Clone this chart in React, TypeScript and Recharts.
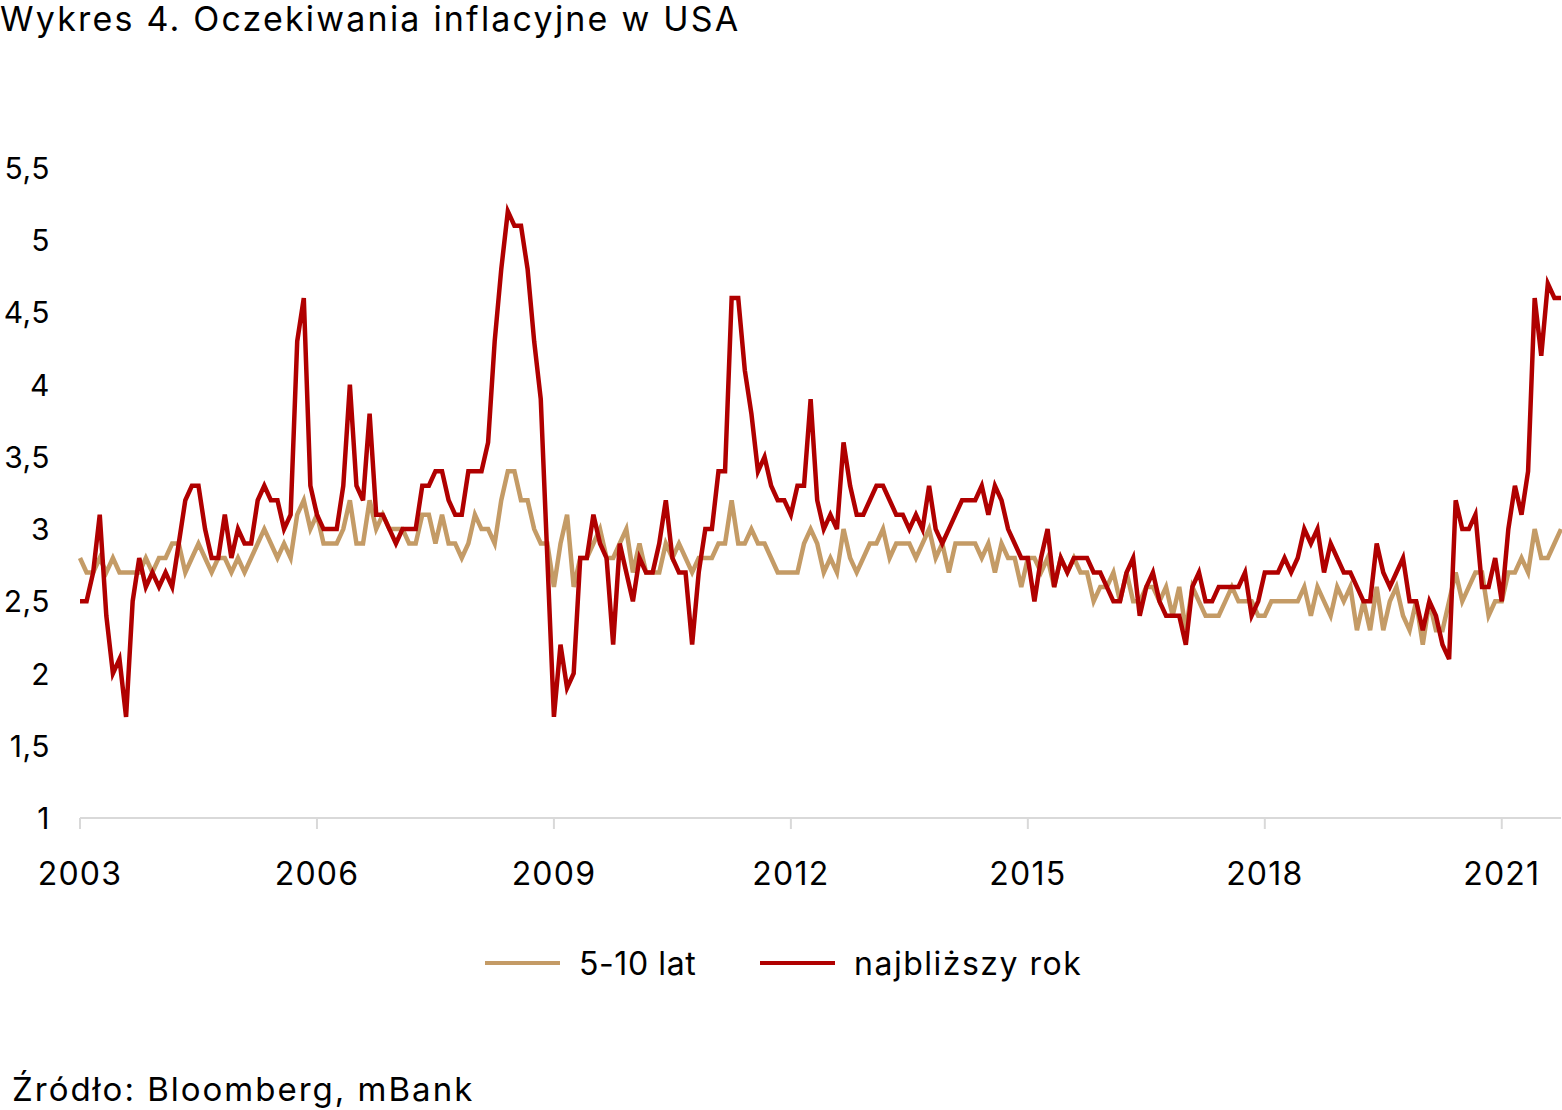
import { LineChart, Line, XAxis, YAxis } from "recharts";

const START_YEAR = 2003;
const YEAR_TICKS = [2003, 2006, 2009, 2012, 2015, 2018, 2021];
const Y_TICKS = [1, 1.5, 2, 2.5, 3, 3.5, 4, 4.5, 5, 5.5];

const TAN = "#c49b66";
const RED = "#b00000";
const FONT = "Inter, 'Noto Sans', sans-serif";

// oczekiwania 5-10 lat, miesięcznie od 01.2003
const longTerm = [
  2.8, 2.7, 2.7, 2.8, 2.7, 2.8, 2.7, 2.7, 2.7, 2.7, 2.8, 2.7,
  2.8, 2.8, 2.9, 2.9, 2.7, 2.8, 2.9, 2.8, 2.7, 2.8, 2.8, 2.7,
  2.8, 2.7, 2.8, 2.9, 3.0, 2.9, 2.8, 2.9, 2.8, 3.1, 3.2, 3.0,
  3.1, 2.9, 2.9, 2.9, 3.0, 3.2, 2.9, 2.9, 3.2, 3.0, 3.1, 3.0,
  3.0, 3.0, 2.9, 2.9, 3.1, 3.1, 2.9, 3.1, 2.9, 2.9, 2.8, 2.9,
  3.1, 3.0, 3.0, 2.9, 3.2, 3.4, 3.4, 3.2, 3.2, 3.0, 2.9, 2.9,
  2.6, 2.9, 3.1, 2.6, 2.8, 2.8, 2.9, 3.0, 2.8, 2.8, 2.9, 3.0,
  2.7, 2.9, 2.7, 2.7, 2.7, 2.9, 2.8, 2.9, 2.8, 2.7, 2.8, 2.8,
  2.8, 2.9, 2.9, 3.2, 2.9, 2.9, 3.0, 2.9, 2.9, 2.8, 2.7, 2.7,
  2.7, 2.7, 2.9, 3.0, 2.9, 2.7, 2.8, 2.7, 3.0, 2.8, 2.7, 2.8,
  2.9, 2.9, 3.0, 2.8, 2.9, 2.9, 2.9, 2.8, 2.9, 3.0, 2.8, 2.9,
  2.7, 2.9, 2.9, 2.9, 2.9, 2.8, 2.9, 2.7, 2.9, 2.8, 2.8, 2.6,
  2.8, 2.8, 2.7, 2.8, 2.6, 2.8, 2.7, 2.8, 2.7, 2.7, 2.5, 2.6,
  2.6, 2.7, 2.5, 2.7, 2.5, 2.5, 2.6, 2.6, 2.5, 2.6, 2.4, 2.6,
  2.3, 2.6, 2.5, 2.4, 2.4, 2.4, 2.5, 2.6, 2.5, 2.5, 2.5, 2.4,
  2.4, 2.5, 2.5, 2.5, 2.5, 2.5, 2.6, 2.4, 2.6, 2.5, 2.4, 2.6,
  2.5, 2.6, 2.3, 2.5, 2.3, 2.6, 2.3, 2.5, 2.6, 2.4, 2.3, 2.5,
  2.2, 2.5, 2.3, 2.3, 2.5, 2.7, 2.5, 2.6, 2.7, 2.7, 2.4, 2.5,
  2.5, 2.7, 2.7, 2.8, 2.7, 3.0, 2.8, 2.8, 2.9, 3.0,
];

// oczekiwania na najbliższy rok
const nextYear = [
  2.5, 2.5, 2.7, 3.1, 2.4, 2.0, 2.1, 1.7, 2.5, 2.8, 2.6, 2.7,
  2.6, 2.7, 2.6, 2.9, 3.2, 3.3, 3.3, 3.0, 2.8, 2.8, 3.1, 2.8,
  3.0, 2.9, 2.9, 3.2, 3.3, 3.2, 3.2, 3.0, 3.1, 4.3, 4.6, 3.3,
  3.1, 3.0, 3.0, 3.0, 3.3, 4.0, 3.3, 3.2, 3.8, 3.1, 3.1, 3.0,
  2.9, 3.0, 3.0, 3.0, 3.3, 3.3, 3.4, 3.4, 3.2, 3.1, 3.1, 3.4,
  3.4, 3.4, 3.6, 4.3, 4.8, 5.2, 5.1, 5.1, 4.8, 4.3, 3.9, 2.8,
  1.7, 2.2, 1.9, 2.0, 2.8, 2.8, 3.1, 2.9, 2.8, 2.2, 2.9, 2.7,
  2.5, 2.8, 2.7, 2.7, 2.9, 3.2, 2.8, 2.7, 2.7, 2.2, 2.7, 3.0,
  3.0, 3.4, 3.4, 4.6, 4.6, 4.1, 3.8, 3.4, 3.5, 3.3, 3.2, 3.2,
  3.1, 3.3, 3.3, 3.9, 3.2, 3.0, 3.1, 3.0, 3.6, 3.3, 3.1, 3.1,
  3.2, 3.3, 3.3, 3.2, 3.1, 3.1, 3.0, 3.1, 3.0, 3.3, 3.0, 2.9,
  3.0, 3.1, 3.2, 3.2, 3.2, 3.3, 3.1, 3.3, 3.2, 3.0, 2.9, 2.8,
  2.8, 2.5, 2.8, 3.0, 2.6, 2.8, 2.7, 2.8, 2.8, 2.8, 2.7, 2.7,
  2.6, 2.5, 2.5, 2.7, 2.8, 2.4, 2.6, 2.7, 2.5, 2.4, 2.4, 2.4,
  2.2, 2.6, 2.7, 2.5, 2.5, 2.6, 2.6, 2.6, 2.6, 2.7, 2.4, 2.5,
  2.7, 2.7, 2.7, 2.8, 2.7, 2.8, 3.0, 2.9, 3.0, 2.7, 2.9, 2.8,
  2.7, 2.7, 2.6, 2.5, 2.5, 2.9, 2.7, 2.6, 2.7, 2.8, 2.5, 2.5,
  2.3, 2.5, 2.4, 2.2, 2.1, 3.2, 3.0, 3.0, 3.1, 2.6, 2.6, 2.8,
  2.5, 3.0, 3.3, 3.1, 3.4, 4.6, 4.2, 4.7, 4.6, 4.6,
];

const data = longTerm.map((v, i) => ({ m: i, longTerm: v, nextYear: nextYear[i] }));

const fmtY = (v: number) => String(v).replace(".", ",");

function YTick({ y, payload }: any) {
  return (
    <text x={50} y={y} dy={11} textAnchor="end" fill="#000" fontSize={30} fontFamily={FONT} letterSpacing={0.5}>
      {fmtY(payload.value)}
    </text>
  );
}

function XTick({ x, y, payload }: any) {
  return (
    <text x={x} y={y} dy={54} textAnchor="middle" fill="#000" fontSize={32} fontFamily={FONT} letterSpacing={1.2}>
      {START_YEAR + payload.value / 12}
    </text>
  );
}

function LegendItem({ color, label, left, spacing }: { color: string; label: string; left: number; spacing: number }) {
  return (
    <div style={{ position: "absolute", left, top: 945, height: 36, display: "flex", alignItems: "center" }}>
      <div style={{ width: 75, height: 4, background: color, marginRight: 19 }} />
      <span style={{ letterSpacing: spacing }}>{label}</span>
    </div>
  );
}

export default function App() {
  return (
    <div
      style={{
        position: "absolute",
        left: 0,
        top: 0,
        width: 1562,
        height: 1110,
        background: "#fff",
        fontFamily: FONT,
        color: "#000",
      }}
    >
      <div
        style={{
          position: "absolute",
          left: 0,
          top: 2,
          fontSize: 34,
          lineHeight: 1,
          letterSpacing: 2.2,
          whiteSpace: "nowrap",
        }}
      >
        Wykres 4. Oczekiwania inflacyjne w USA
      </div>

      <LineChart width={1562} height={1110} data={data} margin={{ top: 168, right: 1, left: 0, bottom: 232 }}>
        <XAxis
          type="number"
          dataKey="m"
          domain={[0, 225]}
          ticks={YEAR_TICKS.map((y) => (y - START_YEAR) * 12)}
          tick={<XTick />}
          height={60}
          stroke="#d9d9d9"
          strokeWidth={2}
          tickSize={11}
          interval={0}
        />
        <YAxis
          type="number"
          domain={[1, 5.5]}
          ticks={Y_TICKS}
          width={80}
          axisLine={false}
          tickLine={false}
          tick={<YTick />}
          interval={0}
        />
        <Line
          type="linear"
          dataKey="longTerm"
          stroke={TAN}
          strokeWidth={4.5}
          dot={false}
          isAnimationActive={false}
        />
        <Line
          type="linear"
          dataKey="nextYear"
          stroke={RED}
          strokeWidth={4.5}
          dot={false}
          isAnimationActive={false}
        />
      </LineChart>

      <div style={{ fontSize: 32, whiteSpace: "nowrap" }}>
        <LegendItem color={TAN} label="5-10 lat" left={485} spacing={0.6} />
        <LegendItem color={RED} label="najbliższy rok" left={760} spacing={1.5} />
      </div>

      <div
        style={{
          position: "absolute",
          left: 12,
          top: 1073,
          fontSize: 33,
          lineHeight: 1,
          letterSpacing: 2,
          whiteSpace: "nowrap",
        }}
      >
        Źródło: Bloomberg, mBank
      </div>
    </div>
  );
}
